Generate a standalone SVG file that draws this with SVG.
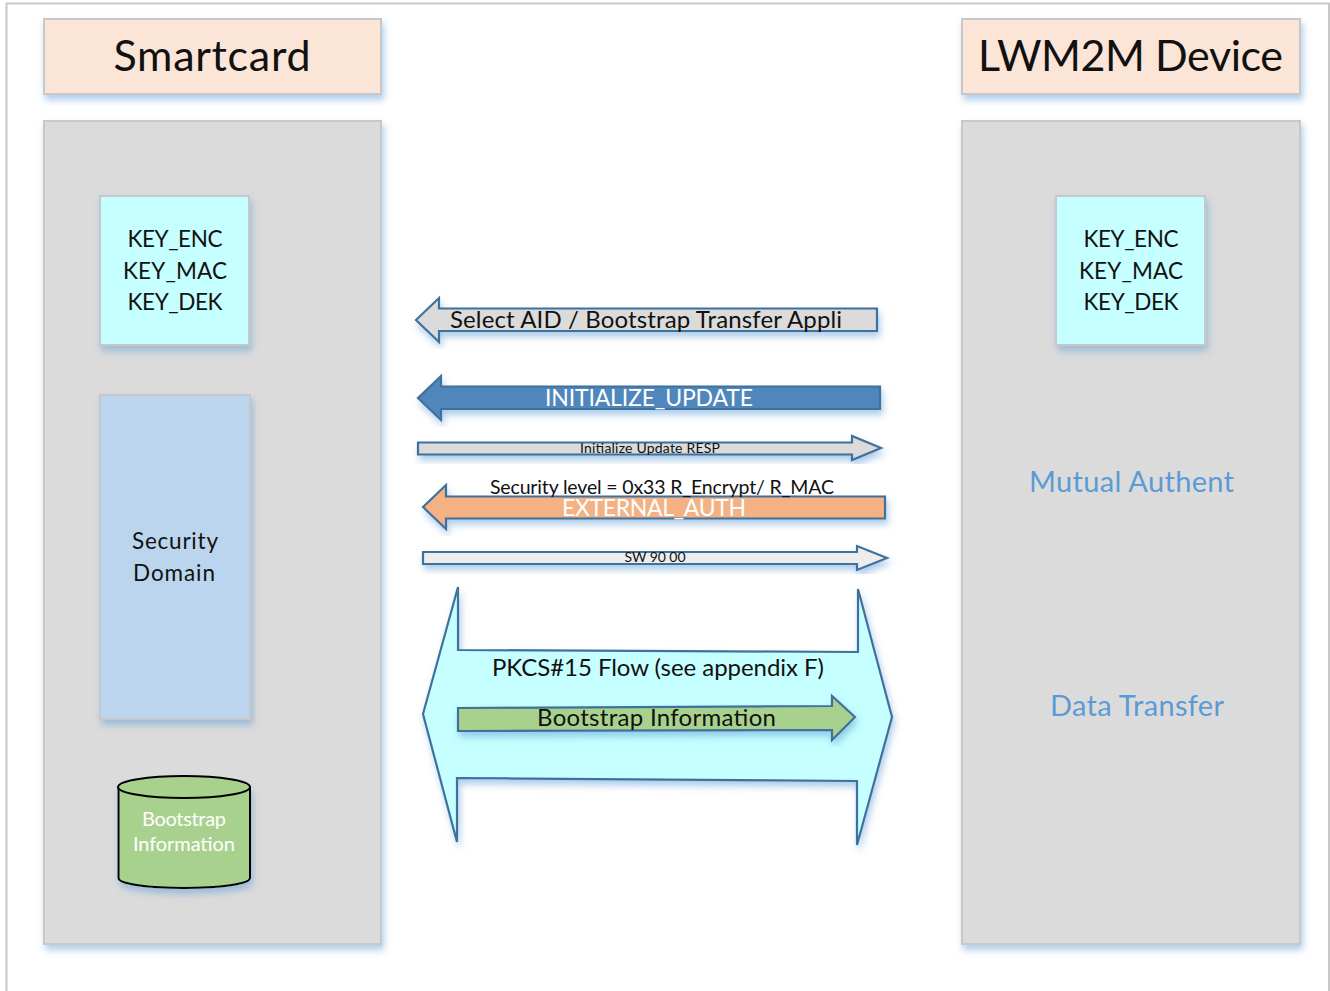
<svg xmlns="http://www.w3.org/2000/svg" width="1330" height="991" viewBox="0 0 1330 991">
<defs>
<filter id="sh" x="-10%" y="-10%" width="125%" height="125%"><feDropShadow dx="2" dy="5" stdDeviation="3.500" flood-color="#5b9bd5" flood-opacity="0.5"/></filter>
</defs>
<style>
text{font-family:"Lato","Carlito","Liberation Sans",sans-serif;fill:#111;text-anchor:middle}
.box{stroke:#c8c8c8;stroke-width:2;filter:url(#sh)}
.arrow{stroke:#41719c;stroke-width:2.200;filter:url(#sh)}
.title{font-size:43px}
.key{font-size:22.500px}
.link{font-size:29px;fill:#5b9bd5}
.white{fill:#fff}
</style>
<rect width="1330" height="991" fill="#fff"/>
<path d="M6.500 991V3.500H1329V991" fill="none" stroke="#c8c8c8" stroke-width="2"/>
<g id="smartcard-title"><rect class="box" x="44" y="19" width="337" height="75" fill="#fbe5d6"/><text class="title" x="212" y="71" textLength="197">Smartcard</text></g>
<g id="smartcard-panel"><rect class="box" x="44" y="121" width="337" height="823" fill="#dbdbdb"/></g>
<g id="smartcard-keys"><rect class="box" x="100" y="196" width="149" height="149" fill="#c6ffff"/><text class="key" x="175" y="247" textLength="95">KEY_ENC</text><text class="key" x="175" y="279" textLength="104">KEY_MAC</text><text class="key" x="175" y="310" textLength="95">KEY_DEK</text></g>
<g id="security-domain"><rect class="box" x="100" y="395" width="150" height="324" fill="#bbd5ee"/><text class="key" x="175" y="549" textLength="86">Security</text><text class="key" x="174" y="581" textLength="82">Domain</text></g>
<g id="bootstrap-store"><path d="M118.500 787V878C118.500 884 148 888 184 888S250 884 250 878V787Z" fill="#a9d18e" stroke="#000" stroke-width="2" filter="url(#sh)"/><ellipse cx="184" cy="787" rx="66" ry="11" fill="#a9d18e" stroke="#000" stroke-width="2"/><text class="white" font-size="20" x="184" y="826" textLength="84">Bootstrap</text><text class="white" font-size="20" x="184" y="851" textLength="102">Information</text></g>
<g id="device-title"><rect class="box" x="962" y="19" width="338" height="75" fill="#fbe5d6"/><text class="title" x="1130.500" y="71" textLength="305">LWM2M Device</text></g>
<g id="device-panel"><rect class="box" x="962" y="121" width="338" height="823" fill="#dbdbdb"/><text class="link" x="1131.500" y="492" textLength="205">Mutual Authent</text><text class="link" x="1137" y="716" textLength="174">Data Transfer</text></g>
<g id="device-keys"><rect class="box" x="1056" y="196" width="149" height="149" fill="#c6ffff"/><text class="key" x="1131" y="247" textLength="95">KEY_ENC</text><text class="key" x="1131" y="279" textLength="104">KEY_MAC</text><text class="key" x="1131" y="310" textLength="95">KEY_DEK</text></g>
<g id="connectors">
<polygon class="arrow" points="416,320 439,298 439,308.500 877,308.500 877,331 439,331 439,342" fill="#dbdbdb"/>
<text font-size="24" x="646" y="328" textLength="392">Select AID / Bootstrap Transfer Appli</text>
<polygon class="arrow" points="418,398 441,376 441,386.500 880,386.500 880,409 441,409 441,420" fill="#4f87bd"/>
<text class="white" font-size="23" x="649" y="406" textLength="208">INITIALIZE_UPDATE</text>
<polygon class="arrow" points="418,442.500 852,442.500 852,436 881,448 852,460 852,454.500 418,454.500" fill="#dbdbdb"/>
<text font-size="14" x="650" y="453" textLength="140">Initialize Update RESP</text>
<polygon class="arrow" points="423,507 446,485 446,496.500 885,496.500 885,518.500 446,518.500 446,529" fill="#f4b183"/>
<text font-size="19.500" x="662" y="494" textLength="344">Security level = 0x33 R_Encrypt/ R_MAC</text>
<text class="white" font-size="23" x="654" y="516" textLength="184">EXTERNAL_AUTH</text>
<polygon class="arrow" points="423,552 857,552 857,546 887,558 857,570 857,564 423,564" fill="#ededed"/>
<text font-size="14" x="655" y="562" textLength="61">SW 90 00</text>
<polygon class="arrow" points="423,714 458,587 458,650 858,652 858,589 892,717 857,845 857,781 457,778 457,842" fill="#c6ffff"/>
<text font-size="24" x="658" y="676" textLength="332">PKCS#15 Flow (see appendix F)</text>
<polygon class="arrow" points="458,708 832,706 832,696 855,717 832,740 832,730 458,731" fill="#a9d18e"/>
<text font-size="24" x="656.500" y="726" textLength="239">Bootstrap Information</text>
</g>
</svg>
